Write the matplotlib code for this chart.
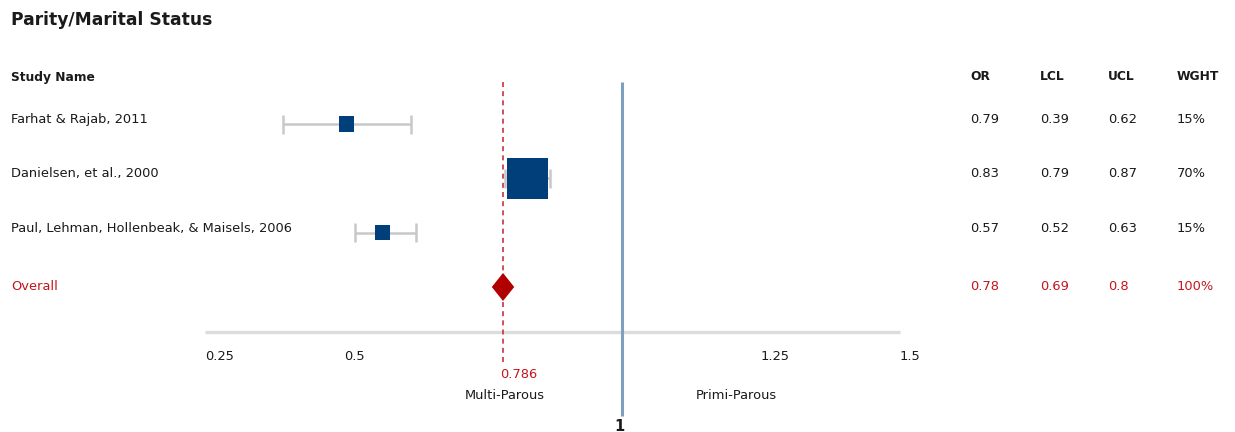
import matplotlib
matplotlib.use("Agg")
import matplotlib.pyplot as plt
from matplotlib.transforms import blended_transform_factory

# ---- data -------------------------------------------------------------
studies = ["Farhat & Rajab, 2011",
           "Danielsen, et al., 2000",
           "Paul, Lehman, Hollenbeak, & Maisels, 2006"]
estimates = [0.505, 0.83, 0.57]          # plotted point estimates
lcl = [0.39, 0.79, 0.52]
ucl = [0.62, 0.87, 0.63]
weights = [15, 70, 15]

or_labels = ["0.79", "0.83", "0.57"]
lcl_labels = ["0.39", "0.79", "0.52"]
ucl_labels = ["0.62", "0.87", "0.63"]
wght_labels = ["15%", "70%", "15%"]

overall_label = "Overall"
overall_est = 0.786
overall_row = ["0.78", "0.69", "0.8", "100%"]

col_headers = ["OR", "LCL", "UCL", "WGHT"]
x_ticks = [0.25, 0.5, 1.25, 1.5]
left_label = "Multi-Parous"
right_label = "Primi-Parous"
title = "Parity/Marital Status"

# ---- style ------------------------------------------------------------
W, H, DPI = 1235, 432, 100
NAVY = "#003f7a"
GREY = "#c8c8c8"
DARK_RED = "#b00000"
TEXT_RED = "#c4161c"
LINE_RED = "#c8323c"
STEEL = "#7f9fc0"
TEXT = "#1a1a1a"
FONT = "DejaVu Sans"
BODY = 9.4
HEAD = 8.8

fig = plt.figure(figsize=(W / DPI, H / DPI), dpi=DPI)
ax = fig.add_axes([0, 0, 1, 1])
ax.set_axis_off()

# value axis: 0.25 sits at x=205px, 556px per unit
px0, ppu = 205.0, 556.0
ax.set_xlim(0.25 - px0 / ppu, 0.25 + (W - px0) / ppu)

# rows: row 0 at y=124px, 54.33px per row (y grows downward)
py0, ppr = 124.0, 54.33


def row(px):
    """Convert a vertical pixel offset from the top into row units."""
    return (px - py0) / ppr


ax.set_ylim(row(H), row(0))
fig_x = blended_transform_factory(fig.transFigure, ax.transData)


def fx(px):
    return px / W


n = len(studies)
rows = list(range(n))
overall_y = n

# reference lines
ax.vlines(1.0, row(82), row(416), color=STEEL, lw=2.2, zorder=1)
ax.vlines(overall_est, row(82), row(366), color=LINE_RED, lw=1.2,
          linestyles=(0, (3, 2.5)), zorder=1)
ax.hlines(row(332), 0.25, 1.5, color="#dcdcdc", lw=2.4, zorder=0)

# confidence intervals with end caps
cap = 9.5 / ppr
for i in rows:
    ax.hlines(i, lcl[i], ucl[i], color=GREY, lw=1.8, zorder=2)
    ax.vlines([lcl[i], ucl[i]], i - cap, i + cap, color=GREY, lw=1.8, zorder=2)

# study boxes sized by weight
sides_pt = [(7.9 + 0.475 * w) * 72 / DPI for w in weights]
ax.scatter(estimates, rows, s=[s ** 2 for s in sides_pt], marker="s",
           color=NAVY, edgecolors="none", zorder=3)

# overall diamond
diamond = [(-0.8, 0), (0, 1), (0.8, 0), (0, -1), (-0.8, 0)]
ax.scatter([overall_est], [overall_y], marker=diamond, s=(28 * 72 / DPI) ** 2,
           color=DARK_RED, edgecolors="none", zorder=3)

# title and headers
fig.text(fx(11), 1 - 20 / H, title, fontsize=12.3, fontweight="bold",
         color=TEXT, va="center", ha="left", family=FONT)
ax.text(fx(11), row(77), "Study Name", transform=fig_x, fontsize=HEAD,
        fontweight="bold", color=TEXT, va="center", ha="left", family=FONT)
col_x = [970, 1040, 1108, 1177]
for cx, h in zip(col_x, col_headers):
    ax.text(fx(cx), row(77), h, transform=fig_x, fontsize=HEAD,
            fontweight="bold", color=TEXT, va="center", ha="left", family=FONT)

# per-study text
txt_shift = 4.5 / ppr
for i in rows:
    y = i - txt_shift
    ax.text(fx(11), y, studies[i], transform=fig_x, fontsize=BODY,
            color=TEXT, va="center", ha="left", family=FONT)
    for cx, val in zip(col_x, [or_labels[i], lcl_labels[i], ucl_labels[i],
                               wght_labels[i]]):
        ax.text(fx(cx), y, val, transform=fig_x, fontsize=BODY,
                color=TEXT, va="center", ha="left", family=FONT)

ax.text(fx(11), overall_y, overall_label, transform=fig_x, fontsize=BODY,
        color=TEXT_RED, va="center", ha="left", family=FONT)
for cx, val in zip(col_x, overall_row):
    ax.text(fx(cx), overall_y, val, transform=fig_x, fontsize=BODY,
            color=TEXT_RED, va="center", ha="left", family=FONT)

# x tick labels, left-aligned at their values
for t in x_ticks:
    ax.text(t, row(356), f"{t:g}", fontsize=BODY, color=TEXT,
            va="center", ha="left", family=FONT)

ax.text(overall_est - 3 / ppu, row(375), f"{overall_est:g}", fontsize=BODY,
        color=TEXT_RED, va="center", ha="left", family=FONT)
ax.text(0.79, row(395), left_label, fontsize=BODY, color=TEXT,
        va="center", ha="center", family=FONT)
ax.text(1.205, row(395), right_label, fontsize=BODY, color=TEXT,
        va="center", ha="center", family=FONT)
ax.text(0.996, row(430.5), "1", fontsize=10.5, fontweight="bold", color=TEXT,
        va="baseline", ha="center", family=FONT)

fig.savefig("out.png", dpi=DPI, facecolor="white")
